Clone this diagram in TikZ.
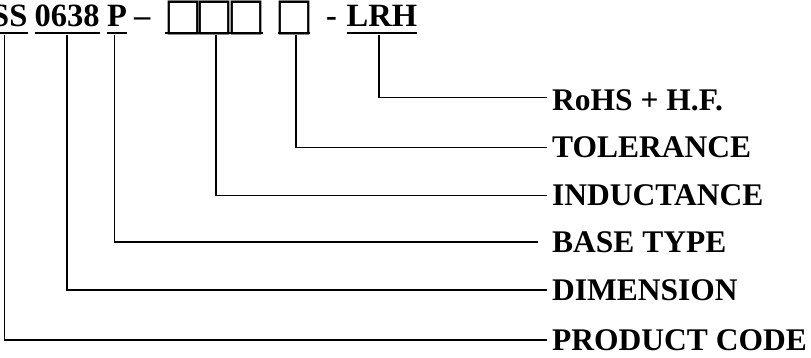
\documentclass[tikz,border=0pt]{standalone}
\usepackage{fontspec}
\setmainfont{Liberation Serif}
\newfontfamily\symfont{DejaVu Sans}
\newcommand{\phbox}{\resizebox{38pt}{28.5pt}{\symfont □}}
\begin{document}
\begin{tikzpicture}[x=1pt,y=-1pt,
  conn/.style={line width=1.3pt},
  uline/.style={line width=2pt},
  toptxt/.style={font=\bfseries\fontsize{32.5}{36}\selectfont, inner sep=0pt, anchor=base west},
  boxtxt/.style={inner sep=0pt, anchor=center},
  lab/.style={font=\bfseries\fontsize{31.5}{36}\selectfont, inner xsep=5pt, inner ysep=0pt, anchor=west}]
\useasboundingbox (0,0) rectangle (811,358);
% top code
\node[toptxt] (ss) at (-9,27) {SS};
\node[toptxt] (dim) at (34.5,27) {0638};
\node[toptxt] (p) at (107,27) {P};
\node[toptxt] (dash) at (134,27) {–};
\node[boxtxt] (b1) at (183.3,18) {\phbox};
\node[boxtxt] (b2) at (214.7,18) {\phbox};
\node[boxtxt] (b3) at (246.7,18) {\phbox};
\node[boxtxt] (b4) at (294.2,18) {\phbox};
\node[toptxt] (hy) at (326,27) {-};
\node[toptxt] (lrh) at (346.5,27) {LRH};
% underlines
\coordinate (uy) at (0,33);
\draw[uline] (0,33) -- (ss.east |- uy);
\draw[uline] (dim.west |- uy) -- (dim.east |- uy);
\draw[uline] (p.west |- uy) -- (p.east |- uy);
\draw[uline] ([xshift=-18pt]b1.center |- uy) -- ([xshift=16.6pt]b3.center |- uy);
\draw[uline] ([xshift=-16pt]b4.center |- uy) -- ([xshift=16pt]b4.center |- uy);
\draw[uline] (lrh.west |- uy) -- (lrh.east |- uy);
% labels
\node[lab] (l1) at (547,100.3) {RoHS + H.F.};
\node[lab] (l2) at (547,147.7) {TOLERANCE};
\node[lab] (l3) at (547,195.5) {INDUCTANCE};
\node[lab] (l4) at (547,242) {BASE TYPE};
\node[lab] (l5) at (547,290) {DIMENSION};
\node[lab] (l6) at (547,340) {PRODUCT CODE};
% connector starts
\coordinate (c1) at (4.5,35);
\coordinate (c2) at (67,35);
\coordinate (c3) at (114.5,35);
\coordinate (c4) at (216,35);
\coordinate (c5) at (296,35);
\coordinate (c6) at (379,35);
\draw[conn] (c6) |- ([yshift=3pt]l1.west);
\draw[conn] (c5) |- (l2.west);
\draw[conn] (c4) |- (l3.west);
\draw[conn] (c3) |- ([xshift=-9pt]l4.west);
\draw[conn] (c2) |- (l5.west);
\draw[conn] (c1) |- (l6.west);
\end{tikzpicture}
\end{document}
